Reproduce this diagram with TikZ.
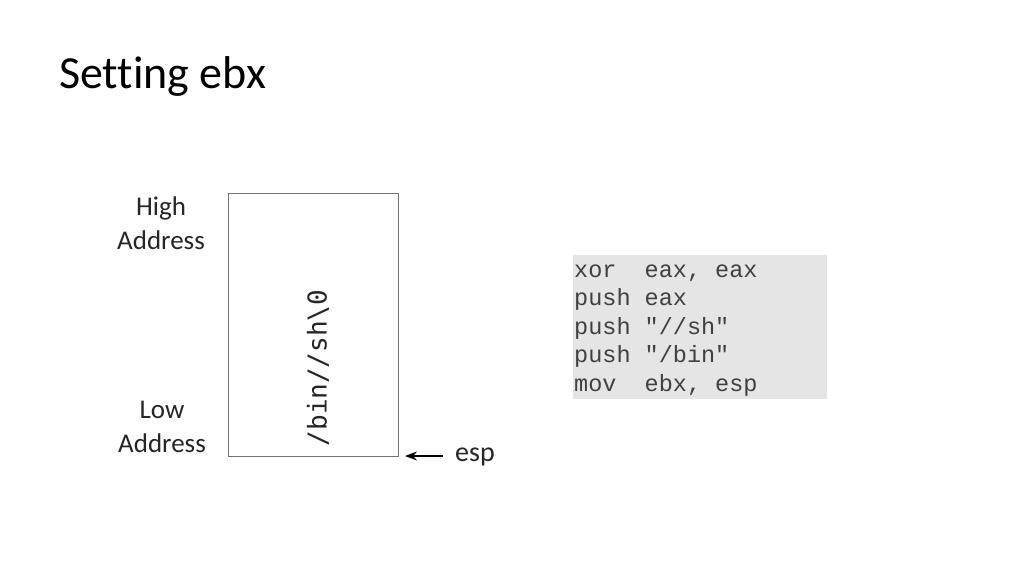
\documentclass[tikz,border=0pt]{standalone}
\usepackage{fontspec}
\usetikzlibrary{arrows.meta}
\setmainfont{Carlito}[Ligatures=NoCommon]
\newfontfamily\codefont{Liberation Mono}
\newfontfamily\stackfont{DejaVu Sans Mono}
\begin{document}
\begin{tikzpicture}[x=1pt,y=-1pt,
  lbl/.style={font=\fontsize{27}{34}\selectfont, align=center, text=black!85},
  codeline/.style={anchor=base west, font=\codefont\fontsize{23.5}{26}\selectfont, text=black!75, inner sep=0pt}]
\useasboundingbox[fill=white] (0,0) rectangle (1024,576);
\node[anchor=base west, inner sep=0pt, font=\fontsize{46}{50}\selectfont] (title) at (59,88) {Setting ebx};
\node[draw=black!55, line width=0.8pt, minimum width=170pt, minimum height=263pt, inner sep=0pt] (stack) at (313,324.5) {};
\node[rotate=90, font=\stackfont\fontsize{26}{30}\selectfont, text=black!85] (str) at (318,368) {/bin//sh\textbackslash 0};
\node[lbl] (high) at (161,223) {High\\Address};
\node[lbl] (low) at (162,427) {Low\\Address};
\node[anchor=west, font=\fontsize{28}{32}\selectfont, text=black!85, inner sep=0pt] (esp) at (455,457) {esp};
\coordinate (tip) at (405,456);
\draw[-{Stealth[length=12pt,width=9pt]}, line width=1.6pt] (443,456) -- (tip);
\fill[black!10] (573,255) rectangle (827,399);
\node[codeline] (c1) at (574,277) {xor\ \ eax, eax};
\node[codeline] (c2) at (574,305.5) {push eax};
\node[codeline] (c3) at (574,334) {push "//sh"};
\node[codeline] (c4) at (574,362.5) {push "/bin"};
\node[codeline] (c5) at (574,391) {mov\ \ ebx, esp};
\end{tikzpicture}
\end{document}
